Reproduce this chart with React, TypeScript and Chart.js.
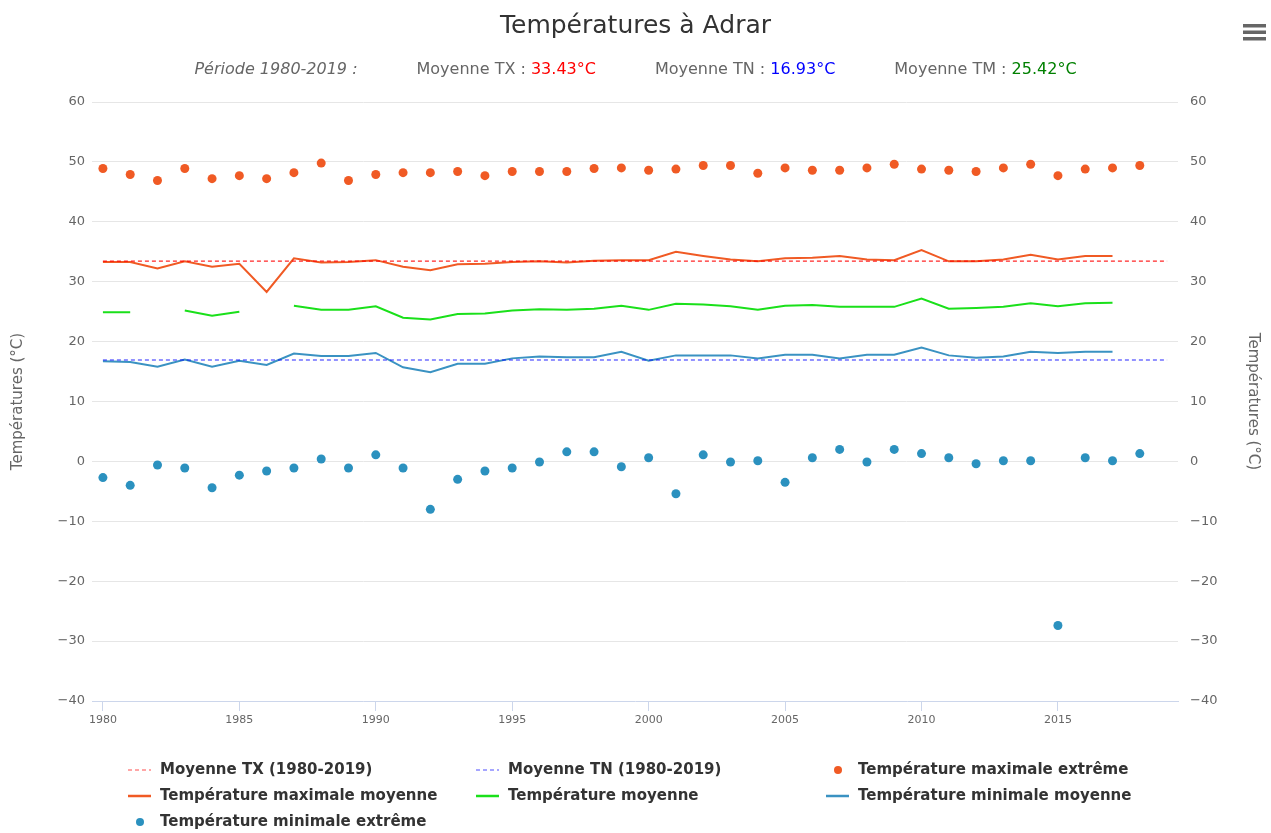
import React, { useEffect, useRef } from "react";
import { Chart, registerables } from "chart.js";

Chart.register(...registerables);

const years = [
  1980, 1981, 1982, 1983, 1984, 1985, 1986, 1987, 1988, 1989,
  1990, 1991, 1992, 1993, 1994, 1995, 1996, 1997, 1998, 1999,
  2000, 2001, 2002, 2003, 2004, 2005, 2006, 2007, 2008, 2009,
  2010, 2011, 2012, 2013, 2014, 2015, 2016, 2017, 2018,
];

const tmaxExtreme = [
  48.9, 47.9, 46.9, 48.9, 47.2, 47.7, 47.2, 48.2, 49.8, 46.9,
  47.9, 48.2, 48.2, 48.4, 47.7, 48.4, 48.4, 48.4, 48.9, 49.0,
  48.6, 48.8, 49.4, 49.4, 48.1, 49.0, 48.6, 48.6, 49.0, 49.6,
  48.8, 48.6, 48.4, 49.0, 49.6, 47.7, 48.8, 49.0, 49.4,
];

const tmaxMean = [
  33.3, 33.3, 32.2, 33.4, 32.5, 33.0, 28.3, 33.9, 33.2, 33.3,
  33.6, 32.5, 31.9, 32.9, 33.0, 33.3, 33.4, 33.2, 33.5, 33.6,
  33.6, 35.0, 34.3, 33.7, 33.4, 33.9, 34.0, 34.3, 33.7, 33.6,
  35.3, 33.4, 33.4, 33.7, 34.5, 33.7, 34.3, 34.3, null,
];

const tmean = [
  24.9, 24.9, null, 25.2, 24.3, 25.0, null, 26.0, 25.3, 25.3,
  25.9, 24.0, 23.7, 24.6, 24.7, 25.2, 25.4, 25.3, 25.5, 26.0,
  25.3, 26.3, 26.2, 25.9, 25.3, 26.0, 26.1, 25.8, 25.8, 25.8,
  27.2, 25.5, 25.6, 25.8, 26.4, 25.9, 26.4, 26.5, null,
];

const tminMean = [
  16.7, 16.6, 15.8, 17.0, 15.8, 16.8, 16.1, 18.0, 17.6, 17.6,
  18.1, 15.7, 14.9, 16.3, 16.3, 17.2, 17.5, 17.4, 17.4, 18.3,
  16.8, 17.7, 17.7, 17.7, 17.2, 17.8, 17.8, 17.2, 17.8, 17.8,
  19.0, 17.7, 17.3, 17.5, 18.3, 18.1, 18.3, 18.3, null,
];

const tminExtreme = [
  -2.7, -4.0, -0.6, -1.1, -4.4, -2.3, -1.6, -1.1, 0.4, -1.1,
  1.1, -1.1, -8.0, -3.0, -1.6, -1.1, -0.1, 1.6, 1.6, -0.9,
  0.6, -5.4, 1.1, -0.1, 0.1, -3.5, 0.6, 2.0, -0.1, 2.0,
  1.3, 0.6, -0.4, 0.1, 0.1, -27.4, 0.6, 0.1, 1.3,
];

const meanTX = 33.43;
const meanTN = 16.93;
const meanTM = 25.42;
const periodStart = 1980;
const periodEnd = 2019;

const xTickYears = [1980, 1985, 1990, 1995, 2000, 2005, 2010, 2015];
const yTickValues = [-40, -30, -20, -10, 0, 10, 20, 30, 40, 50, 60];

const seriesLabels = [
  `Moyenne TX (${periodStart}-${periodEnd})`,
  `Moyenne TN (${periodStart}-${periodEnd})`,
  "Température maximale extrême",
  "Température maximale moyenne",
  "Température moyenne",
  "Température minimale moyenne",
  "Température minimale extrême",
];

const titleText = "Températures à Adrar";
const axisTitle = "Températures (°C)";

const FONT = "'DejaVu Sans', 'Open Sans', sans-serif";

const COLORS = {
  tx: "rgba(255,0,0,0.85)",
  tn: "rgba(0,0,255,0.85)",
  maxExt: "#f05a24",
  maxMean: "#f05a24",
  mean: "#1ae01a",
  minMean: "#3a92c2",
  minExt: "#2b91bf",
};

const pts = (arr: (number | null)[]) => years.map((y, i) => ({ x: y, y: arr[i] }));

const decorPlugin = {
  id: "decor",
  afterDraw(chart: any) {
    const ctx = chart.ctx as CanvasRenderingContext2D;
    const W = chart.width;
    ctx.save();
    // title
    ctx.fillStyle = "#333333";
    ctx.font = `25px ${FONT}`;
    ctx.textAlign = "center";
    ctx.textBaseline = "middle";
    ctx.fillText(titleText, W / 2, 26);

    // hamburger
    ctx.fillStyle = "#666666";
    [24, 30.5, 37].forEach((y) => {
      ctx.fillRect(1243, y, 23, 3.5);
    });

    // subtitle
    const segs: { t: string; c: string; italic?: boolean }[][] = [
      [{ t: `Période ${periodStart}-${periodEnd} :`, c: "#666666", italic: true }],
      [{ t: "Moyenne TX : ", c: "#666666" }, { t: `${meanTX.toFixed(2)}°C`, c: "#ff0000" }],
      [{ t: "Moyenne TN : ", c: "#666666" }, { t: `${meanTN.toFixed(2)}°C`, c: "#0000ff" }],
      [{ t: "Moyenne TM : ", c: "#666666" }, { t: `${meanTM.toFixed(2)}°C`, c: "#008000" }],
    ];
    const gap = 59;
    const fontFor = (s: any) => `${s.italic ? "italic " : ""}16px ${FONT}`;
    const widths = segs.map((g) =>
      g.reduce((acc, s) => {
        ctx.font = fontFor(s);
        return acc + ctx.measureText(s.t).width;
      }, 0)
    );
    const total = widths.reduce((a, b) => a + b, 0) + gap * (segs.length - 1);
    let x = W / 2 - total / 2;
    ctx.textAlign = "left";
    segs.forEach((g, gi) => {
      g.forEach((s) => {
        ctx.font = fontFor(s);
        ctx.fillStyle = s.c;
        ctx.fillText(s.t, x, 70);
        x += ctx.measureText(s.t).width;
      });
      if (gi < segs.length - 1) x += gap;
    });

    // legend
    const cols = [128, 476, 826];
    const rows = [770, 796, 822];
    chart.data.datasets.forEach((ds: any, i: number) => {
      const cx = cols[i % 3];
      const cy = rows[Math.floor(i / 3)];
      ctx.save();
      if (ds.showLine === false) {
        ctx.fillStyle = ds.backgroundColor;
        ctx.beginPath();
        ctx.arc(cx + 12, cy, 4, 0, Math.PI * 2);
        ctx.fill();
      } else {
        ctx.strokeStyle = ds.borderColor;
        ctx.lineWidth = ds.borderDash ? 1.5 : 2.5;
        if (ds.borderDash) {
          ctx.globalAlpha = 0.55;
          ctx.setLineDash([4, 3]);
        }
        ctx.beginPath();
        ctx.moveTo(cx, cy);
        ctx.lineTo(cx + 23, cy);
        ctx.stroke();
      }
      ctx.restore();
      ctx.fillStyle = "#333333";
      ctx.font = `bold 15px ${FONT}`;
      ctx.textAlign = "left";
      ctx.textBaseline = "middle";
      ctx.fillText(ds.label, cx + 32, cy);
    });
    ctx.restore();
  },
};

export default function App() {
  const ref = useRef<HTMLCanvasElement | null>(null);

  useEffect(() => {
    if (!ref.current) return;
    const lineBase = { pointRadius: 0, pointHoverRadius: 0, fill: false, spanGaps: false, tension: 0 };
    const chart = new Chart(ref.current, {
      type: "line",
      data: {
        datasets: [
          {
            ...lineBase,
            label: seriesLabels[0],
            data: [{ x: periodStart, y: meanTX }, { x: periodEnd, y: meanTX }],
            borderColor: COLORS.tx,
            backgroundColor: COLORS.tx,
            borderWidth: 1.2,
            borderDash: [4, 3],
            order: 1,
          },
          {
            ...lineBase,
            label: seriesLabels[1],
            data: [{ x: periodStart, y: meanTN }, { x: periodEnd, y: meanTN }],
            borderColor: COLORS.tn,
            backgroundColor: COLORS.tn,
            borderWidth: 1.2,
            borderDash: [4, 3],
            order: 1,
          },
          {
            label: seriesLabels[2],
            data: pts(tmaxExtreme),
            showLine: false,
            pointRadius: 4.5,
            pointBorderWidth: 0,
            backgroundColor: COLORS.maxExt,
            borderColor: COLORS.maxExt,
            order: 2,
          },
          {
            ...lineBase,
            label: seriesLabels[3],
            data: pts(tmaxMean),
            borderColor: COLORS.maxMean,
            backgroundColor: COLORS.maxMean,
            borderWidth: 2,
            order: 3,
          },
          {
            ...lineBase,
            label: seriesLabels[4],
            data: pts(tmean),
            borderColor: COLORS.mean,
            backgroundColor: COLORS.mean,
            borderWidth: 2,
            order: 3,
          },
          {
            ...lineBase,
            label: seriesLabels[5],
            data: pts(tminMean),
            borderColor: COLORS.minMean,
            backgroundColor: COLORS.minMean,
            borderWidth: 2,
            order: 3,
          },
          {
            label: seriesLabels[6],
            data: pts(tminExtreme),
            showLine: false,
            pointRadius: 4.5,
            pointBorderWidth: 0,
            backgroundColor: COLORS.minExt,
            borderColor: COLORS.minExt,
            order: 2,
          },
        ] as any,
      },
      options: {
        animation: false,
        responsive: false,
        maintainAspectRatio: false,
        layout: { padding: { top: 102, bottom: 101, left: 0, right: 0 } },
        plugins: {
          legend: { display: false },
          title: { display: false },
          tooltip: { enabled: false },
        },
        scales: {
          x: {
            type: "linear",
            min: 1979.6,
            max: 2019.4,
            afterBuildTicks: (s: any) => {
              s.ticks = xTickYears.map((v) => ({ value: v }));
            },
            afterFit: (s: any) => {
              s.height = 31;
            },
            ticks: {
              callback: (v: any) => String(v),
              color: "#666666",
              font: { family: FONT, size: 11 },
              padding: 3,
              maxRotation: 0,
              autoSkip: false,
            },
            grid: {
              drawOnChartArea: false,
              drawTicks: true,
              tickLength: 10,
              color: "#ccd6eb",
              lineWidth: 1,
            },
            border: { display: true, color: "#ccd6eb", width: 1, z: 2 },
          },
          y: {
            type: "linear",
            position: "left",
            min: -40,
            max: 60,
            afterBuildTicks: (s: any) => {
              s.ticks = yTickValues.map((v) => ({ value: v }));
            },
            afterFit: (s: any) => {
              s.width = 92;
            },
            ticks: {
              callback: (v: any) => (v < 0 ? "−" + Math.abs(v) : String(v)),
              color: "#666666",
              font: { family: FONT, size: 13 },
              padding: 7,
            },
            grid: {
              drawTicks: false,
              color: (c: any) => (c.tick && c.tick.value === -40 ? "rgba(0,0,0,0)" : "#e6e6e6"),
              lineWidth: 1,
            },
            border: { display: false },
            title: {
              display: true,
              text: axisTitle,
              color: "#666666",
              font: { family: FONT, size: 15 },
              padding: { top: 9, bottom: 0 },
            },
          },
          y2: {
            type: "linear",
            position: "right",
            min: -40,
            max: 60,
            afterBuildTicks: (s: any) => {
              s.ticks = yTickValues.map((v) => ({ value: v }));
            },
            afterFit: (s: any) => {
              s.width = 93;
            },
            ticks: {
              callback: (v: any) => (v < 0 ? "−" + Math.abs(v) : String(v)),
              color: "#666666",
              font: { family: FONT, size: 13 },
              padding: 12,
            },
            grid: { display: false, drawTicks: false },
            border: { display: false },
            title: {
              display: true,
              text: axisTitle,
              color: "#666666",
              font: { family: FONT, size: 15 },
              padding: { top: 9, bottom: 0 },
            },
          },
        },
      } as any,
      plugins: [decorPlugin],
    });
    return () => chart.destroy();
  }, []);

  return (
    <div style={{ position: "absolute", left: 0, top: 0, width: 1271, height: 833, background: "#ffffff" }}>
      <canvas ref={ref} width={1271} height={833} style={{ display: "block", width: 1271, height: 833 }} />
    </div>
  );
}
